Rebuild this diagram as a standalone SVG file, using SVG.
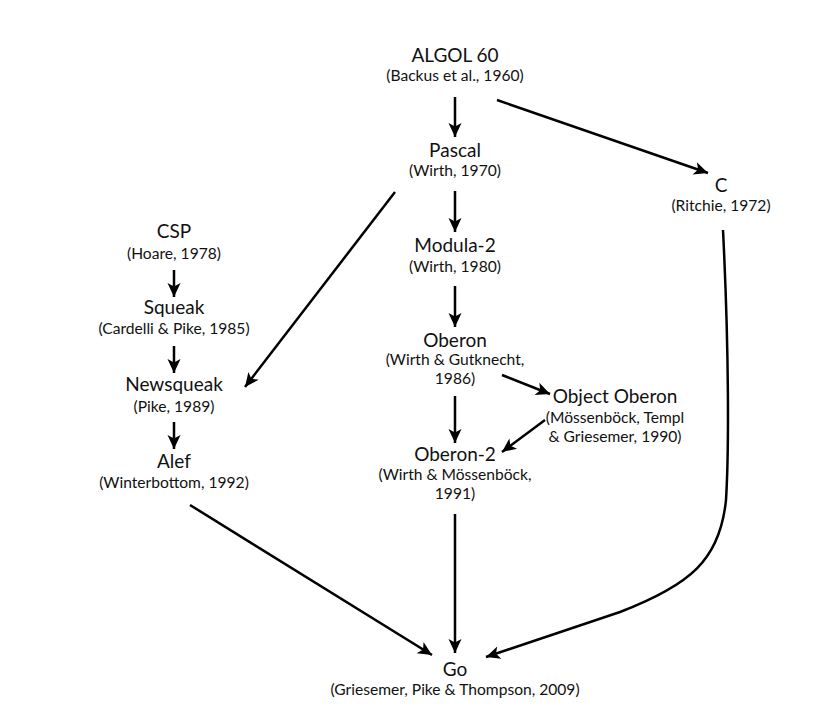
<svg xmlns="http://www.w3.org/2000/svg" width="837" height="711" viewBox="0 0 837 711">
<defs>
<marker id="ah" markerUnits="userSpaceOnUse" viewBox="-1 -8 17 16" refX="14" refY="0" markerWidth="17" markerHeight="16" orient="auto">
<path d="M0,-6.5 L14,0 L0,6.5 L3.5,0 z" fill="#000"/>
</marker>
<style>
text{font-family:Lato,"Noto Sans",sans-serif;fill:#111;text-anchor:middle}
.t{font-size:19px}
.s{font-size:15.6px}
.e{fill:none;stroke:#000;stroke-width:2.5;marker-end:url(#ah)}
</style>
</defs>
<rect width="837" height="711" fill="#fff"/>
<g id="algol"><text class="t" x="455" y="62">ALGOL 60</text><text class="s" x="455" y="81">(Backus et al., 1960)</text></g>
<g id="pascal"><text class="t" x="455" y="157">Pascal</text><text class="s" x="455" y="176">(Wirth, 1970)</text></g>
<g id="c"><text class="t" x="721" y="192">C</text><text class="s" x="721" y="211">(Ritchie, 1972)</text></g>
<g id="csp"><text class="t" x="174" y="238">CSP</text><text class="s" x="174" y="259">(Hoare, 1978)</text></g>
<g id="squeak"><text class="t" x="174" y="314">Squeak</text><text class="s" x="174" y="334">(Cardelli &amp; Pike, 1985)</text></g>
<g id="newsqueak"><text class="t" x="174" y="391">Newsqueak</text><text class="s" x="174" y="412">(Pike, 1989)</text></g>
<g id="alef"><text class="t" x="174" y="468">Alef</text><text class="s" x="174" y="488">(Winterbottom, 1992)</text></g>
<g id="modula2"><text class="t" x="455" y="252">Modula-2</text><text class="s" x="455" y="272">(Wirth, 1980)</text></g>
<g id="oberon"><text class="t" x="455" y="347">Oberon</text><text class="s" x="455" y="365">(Wirth &amp; Gutknecht,</text><text class="s" x="455" y="384">1986)</text></g>
<g id="objoberon"><text class="t" x="615" y="403">Object Oberon</text><text class="s" x="615" y="423">(Mössenböck, Templ</text><text class="s" x="615" y="442">&amp; Griesemer, 1990)</text></g>
<g id="oberon2"><text class="t" x="455" y="461">Oberon-2</text><text class="s" x="455" y="480">(Wirth &amp; Mössenböck,</text><text class="s" x="455" y="499">1991)</text></g>
<g id="go"><text class="t" x="455" y="676">Go</text><text class="s" x="455" y="695">(Griesemer, Pike &amp; Thompson, 2009)</text></g>
<g id="connectors">
<path class="e" d="M455,97 L455,137"/>
<path class="e" d="M497,100 L708,173"/>
<path class="e" d="M455,191 L455,232"/>
<path class="e" d="M395,192 L245,387"/>
<path class="e" d="M455,286 L455,327"/>
<path class="e" d="M502,375 L550,394"/>
<path class="e" d="M455,396 L455,443"/>
<path class="e" d="M545,420 L502,452"/>
<path class="e" d="M455,514 L455,653"/>
<path class="e" d="M190,505 L432,655"/>
<path class="e" d="M723,230 C729,350 729,450 726,500 C720,560 690,585 620,612 L486,657"/>
<path class="e" d="M174,270 L174,297"/>
<path class="e" d="M174,346 L174,373"/>
<path class="e" d="M174,422 L174,449"/>
</g>
</svg>
